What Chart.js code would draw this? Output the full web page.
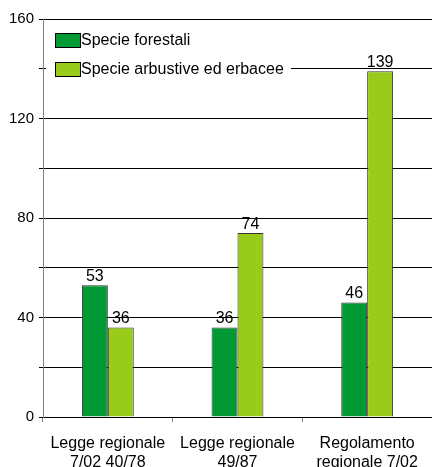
<!DOCTYPE html>
<html>
<head>
<meta charset="utf-8">
<script src="https://cdn.jsdelivr.net/npm/chart.js@4/dist/chart.umd.min.js"></script>
<style>
  html, body { margin: 0; padding: 0; background: #fff; }
  #wrap { width: 432px; height: 467px; }
</style>
</head>
<body>
<div id="wrap"><canvas id="barChart"></canvas></div>
<script>
const categories = [
  ["Legge regionale", "7/02 40/78"],
  ["Legge regionale", "49/87"],
  ["Regolamento", "regionale 7/02"]
];
const forestali = [53, 36, 46];
const arbustive = [36, 74, 139];
const seriesNames = ["Specie forestali", "Specie arbustive ed erbacee"];
const yMax = 160;

const FONT = "Liberation Sans, Arial, sans-serif";

// value labels above each bar
const valueLabels = {
  id: "valueLabels",
  afterDatasetsDraw(chart) {
    const ctx = chart.ctx;
    ctx.save();
    ctx.font = "16px " + FONT;
    ctx.fillStyle = "#000";
    ctx.textAlign = "center";
    ctx.textBaseline = "bottom";
    chart.data.datasets.forEach((ds, i) => {
      chart.getDatasetMeta(i).data.forEach((bar, j) => {
        ctx.fillText(String(ds.data[j]), bar.x, bar.y - 0.5);
      });
    });
    ctx.restore();
  }
};

// legend box sitting inside the plot, top left
const insideLegend = {
  id: "insideLegend",
  afterDraw(chart) {
    const ctx = chart.ctx;
    const a = chart.chartArea;
    ctx.save();
    ctx.fillStyle = "#fff";
    ctx.fillRect(a.left + 3, a.top + 6, 245, 60);
    ctx.font = "16px " + FONT;
    ctx.textBaseline = "middle";
    ctx.textAlign = "left";
    chart.data.datasets.forEach((ds, i) => {
      const y = a.top + 14 + i * 29;
      ctx.fillStyle = ds.backgroundColor;
      ctx.fillRect(a.left + 12.5, y + 0.5, 25, 14);
      ctx.strokeStyle = "#000";
      ctx.lineWidth = 1;
      ctx.strokeRect(a.left + 12.5, y + 0.5, 25, 14);
      ctx.fillStyle = "#000";
      ctx.fillText(ds.label, a.left + 38, y + 8);
    });
    ctx.restore();
  }
};

new Chart(document.getElementById("barChart"), {
  type: "bar",
  data: {
    labels: categories,
    datasets: [
      { label: seriesNames[0], data: forestali, backgroundColor: "#009933",
        borderColor: "#333333", borderWidth: 1, borderSkipped: "bottom" },
      { label: seriesNames[1], data: arbustive, backgroundColor: "#99cc1a",
        borderColor: "#333333", borderWidth: 1, borderSkipped: "bottom" }
    ]
  },
  options: {
    responsive: true,
    maintainAspectRatio: false,
    animation: false,
    layout: { padding: { top: 19, right: 0, left: 0, bottom: 0 } },
    plugins: { legend: { display: false }, tooltip: { enabled: false } },
    datasets: { bar: { categoryPercentage: 0.4, barPercentage: 1 } },
    scales: {
      x: {
        grid: { offset: true, drawOnChartArea: false, drawTicks: true, tickLength: 5, color: "#808080" },
        border: { display: true, color: "#000" },
        ticks: { color: "#000", font: { family: FONT, size: 16, lineHeight: 1.13 }, padding: 13, maxRotation: 0 },
        afterFit(scale) { scale.height = 50; }
      },
      y: {
        min: 0,
        max: yMax,
        grid: { color: "#000", drawTicks: true, tickLength: 4 },
        border: { display: true, color: "#808080" },
        ticks: {
          stepSize: 20,
          color: "#000",
          padding: 5,
          font: { family: FONT, size: 15 },
          callback: v => (v % 40 === 0 ? String(v) : "")
        },
        afterFit(scale) { scale.width = 43; }
      }
    }
  },
  plugins: [valueLabels, insideLegend]
});
</script>
</body>
</html>
